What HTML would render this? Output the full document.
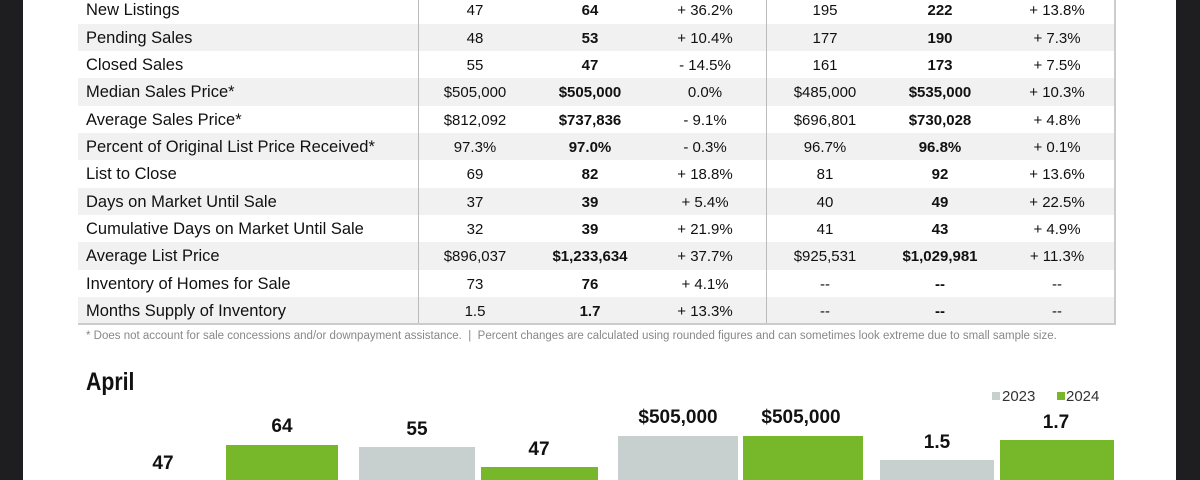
<!DOCTYPE html>
<html style="width:1200px;height:480px;overflow:hidden"><head><style>
*{margin:0;padding:0;box-sizing:border-box}
body{width:1200px;height:480px;overflow:hidden;background:#1e1e20;position:relative;font-family:"Liberation Sans",sans-serif}
#pg{position:absolute;left:23px;top:0;width:1153px;height:480px;background:#fff}
.row{position:absolute;left:78px;width:1037px;height:27.35px;color:#111}
.row.s{background:#f1f1f1}
.row span{position:absolute;top:1px;line-height:27.35px;font-size:15px;text-align:center;width:120px}
.row span.l{left:8px;text-align:left;width:330px;font-size:16.5px}
.b{font-weight:bold}
.vl{position:absolute;top:0;width:1px;height:324px;background:#bbb}
.bar{position:absolute}
.g{background:#c8d0cf}.gr{background:#76b82a}
.bl{position:absolute;font-weight:bold;font-size:19px;text-align:center;width:140px;color:#111}
</style></head><body>
<div id="pg"></div>
<div id="t"></div>
<div class="vl" style="left:418px"></div>
<div class="vl" style="left:766px"></div>
<div style="position:absolute;left:78px;top:323px;width:1038px;height:2px;background:#ccc"></div>
<div style="position:absolute;left:1114px;top:0;width:2px;height:325px;background:#ccc"></div>
<div style="position:absolute;left:86px;top:330px;font-size:11.5px;color:#888">* Does not account for sale concessions and/or downpayment assistance.&nbsp; |&nbsp; Percent changes are calculated using rounded figures and can sometimes look extreme due to small sample size.</div>
<div style="position:absolute;left:86px;top:368px;font-size:25px;font-weight:bold;color:#111;transform:scaleX(0.85);transform-origin:left">April</div>
<div style="position:absolute;left:992px;top:392px;width:8px;height:8px;background:#c8d0cf"></div>
<div style="position:absolute;left:1002px;top:388px;font-size:15px;color:#333">2023</div>
<div style="position:absolute;left:1057px;top:392px;width:8px;height:8px;background:#76b82a"></div>
<div style="position:absolute;left:1066px;top:388px;font-size:15px;color:#333">2024</div>

<div class="bar gr" style="left:226px;width:112px;top:445px;height:35px"></div>
<div class="bar g" style="left:359px;width:116px;top:447px;height:33px"></div>
<div class="bar gr" style="left:481px;width:117px;top:467px;height:13px"></div>
<div class="bar g" style="left:618px;width:120px;top:436px;height:44px"></div>
<div class="bar gr" style="left:743px;width:120px;top:436px;height:44px"></div>
<div class="bar g" style="left:880px;width:114px;top:460px;height:20px"></div>
<div class="bar gr" style="left:1000px;width:114px;top:440px;height:40px"></div>
<div class="bl" style="left:93px;top:453px">47</div>
<div class="bl" style="left:212px;top:416px">64</div>
<div class="bl" style="left:347px;top:419px">55</div>
<div class="bl" style="left:469px;top:439px">47</div>
<div class="bl" style="left:608px;top:407px">$505,000</div>
<div class="bl" style="left:731px;top:407px">$505,000</div>
<div class="bl" style="left:867px;top:432px">1.5</div>
<div class="bl" style="left:986px;top:412px">1.7</div>
<script>
var d=[["New Listings","47","64","+ 36.2%","195","222","+ 13.8%"],
["Pending Sales","48","53","+ 10.4%","177","190","+ 7.3%"],
["Closed Sales","55","47","- 14.5%","161","173","+ 7.5%"],
["Median Sales Price*","$505,000","$505,000","0.0%","$485,000","$535,000","+ 10.3%"],
["Average Sales Price*","$812,092","$737,836","- 9.1%","$696,801","$730,028","+ 4.8%"],
["Percent of Original List Price Received*","97.3%","97.0%","- 0.3%","96.7%","96.8%","+ 0.1%"],
["List to Close","69","82","+ 18.8%","81","92","+ 13.6%"],
["Days on Market Until Sale","37","39","+ 5.4%","40","49","+ 22.5%"],
["Cumulative Days on Market Until Sale","32","39","+ 21.9%","41","43","+ 4.9%"],
["Average List Price","$896,037","$1,233,634","+ 37.7%","$925,531","$1,029,981","+ 11.3%"],
["Inventory of Homes for Sale","73","76","+ 4.1%","--","--","--"],
["Months Supply of Inventory","1.5","1.7","+ 13.3%","--","--","--"]];
var cx=[475,590,705,825,940,1057],h="";
d.forEach(function(r,i){h+='<div class="row'+(i%2?' s':'')+'" style="top:'+(-3.7+i*27.35)+'px"><span class="l">'+r[0]+'</span>';
for(var j=1;j<7;j++)h+='<span class="'+(j==2||j==5?'b':'')+'" style="left:'+(cx[j-1]-78-60)+'px">'+r[j]+'</span>';h+='</div>';});
document.getElementById('t').innerHTML=h;
</script>
</body></html>
